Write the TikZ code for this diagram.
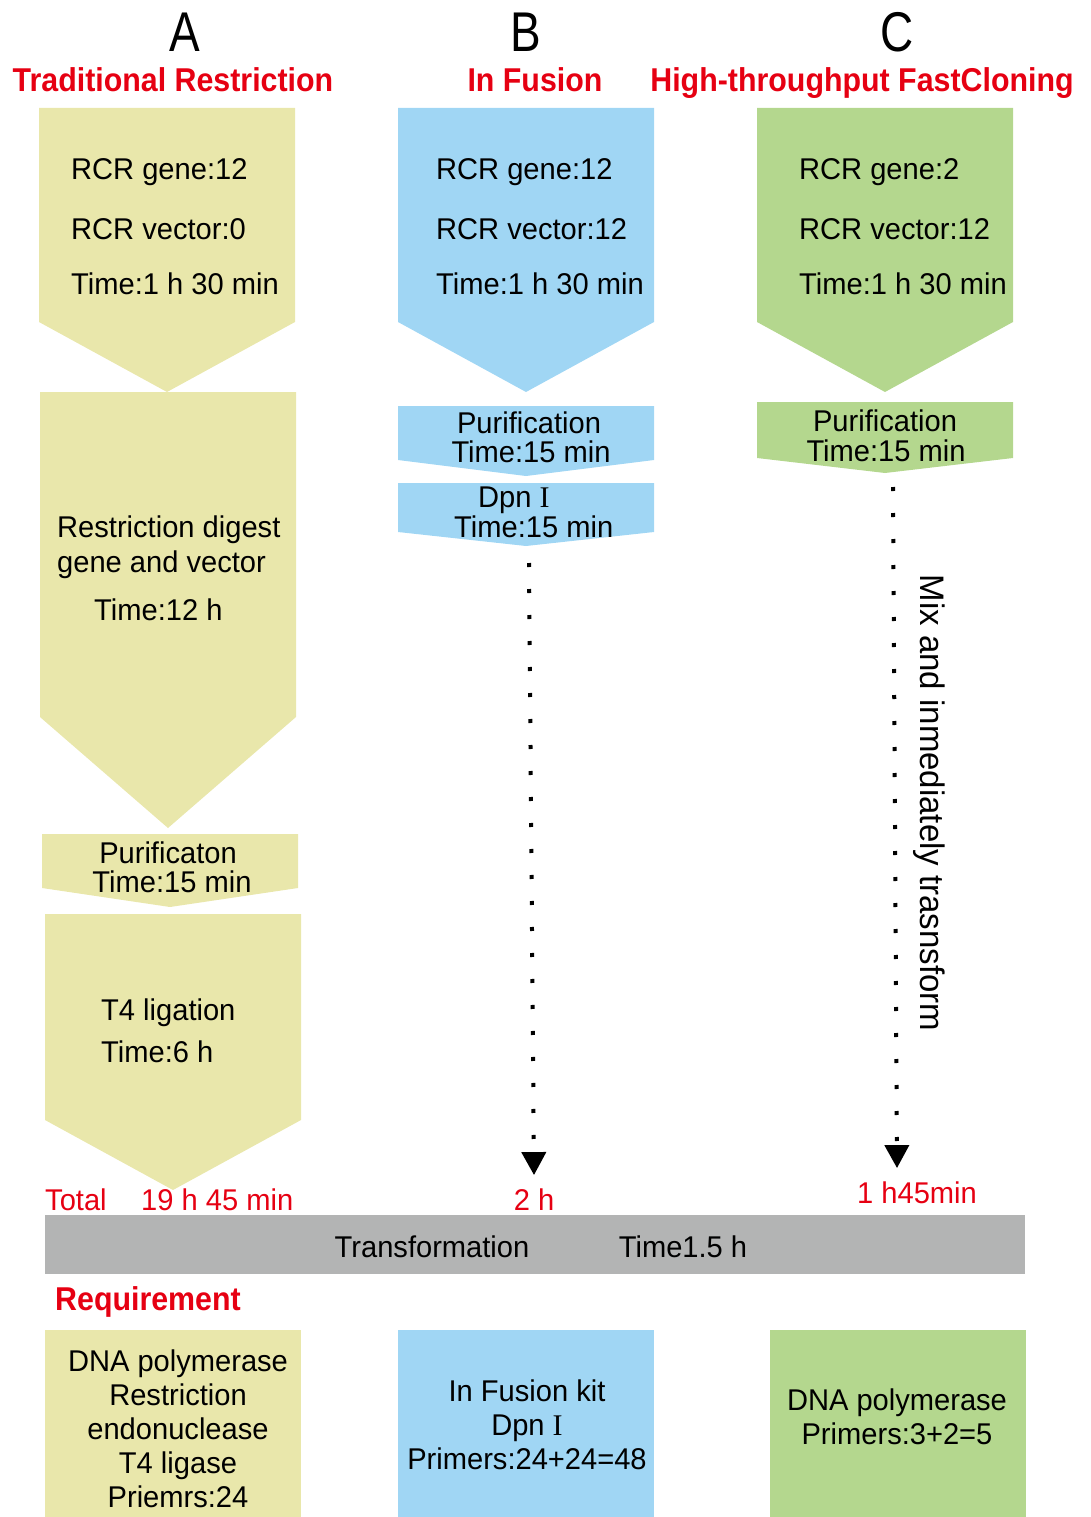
\documentclass[tikz,border=0pt]{standalone}
\usepackage{fontspec}
\setmainfont{Liberation Sans}[FakeStretch=0.97]
\newfontfamily\headfont{Liberation Sans}[FakeStretch=0.92]
\newfontfamily\letterfont{Liberation Sans}[FakeStretch=0.82]
\newfontfamily\romfont{Liberation Serif}
\usetikzlibrary{arrows.meta}
\definecolor{cyel}{RGB}{233,231,171}
\definecolor{cblu}{RGB}{160,214,244}
\definecolor{cgrn}{RGB}{180,215,142}
\definecolor{cgry}{RGB}{179,180,180}
\definecolor{cred}{RGB}{230,0,18}
\newcommand{\RomI}{{\romfont I}}
\tikzset{
  txt/.style={inner sep=0pt, font=\fontsize{30}{34}\selectfont, text=black},
  lw/.style={txt, anchor=base west},
  lc/.style={txt, anchor=base},
  multi/.style={txt, anchor=north, align=center},
  letter/.style={inner sep=0pt, anchor=base, font=\letterfont\fontsize{56}{60}\selectfont},
  heading/.style={inner sep=0pt, anchor=base, text=cred, font=\headfont\bfseries\fontsize{33}{36}\selectfont},
  redlab/.style={txt, text=cred},
  dotline/.style={line width=4pt, dash pattern=on 4pt off 22pt, -{Triangle[width=24pt,length=23pt]}},
}
% arrow box: x1, x2, top, side bottom, tip y, colour, tip name
\newcommand{\arrowbox}[7]{%
  \fill[#6] (#1,#3) -- (#2,#3) -- (#2,#4) -- ({(#1+#2)/2},#5) -- (#1,#4) -- cycle;
  \coordinate (#7) at ({(#1+#2)/2},#5);}
\begin{document}
\begin{tikzpicture}[x=1pt,y=-1pt]
\useasboundingbox (0,0) rectangle (1091,1517);
% column letters and headings
\node[letter] (hA) at (185,52) {A};
\node[letter] (hB) at (526,52) {B};
\node[letter] (hC) at (897,52) {C};
\node[heading] (tA) at (173,92) {Traditional Restriction};
\node[heading] (tB) at (535,92) {In Fusion};
\node[heading] (tC) at (862,92) {High-throughput FastCloning};
% column A
\arrowbox{39}{295}{108}{322}{392}{cyel}{a1tip}
\arrowbox{40}{296}{392}{717}{828}{cyel}{a2tip}
\arrowbox{42}{298}{834}{888}{907}{cyel}{a3tip}
\arrowbox{45}{301}{914}{1120}{1190}{cyel}{a4tip}
\node[lw] (a1g) at (71,179) {RCR gene:12};
\node[lw] (a1v) at (71,239) {RCR vector:0};
\node[lw] (a1t) at (71,294) {Time:1 h 30 min};
\node[lw] (a2a) at (57,537) {Restriction digest};
\node[lw] (a2b) at (57,572) {gene and vector};
\node[lw] (a2t) at (94,620) {Time:12 h};
\node[lc] (a3a) at (168,863) {Purificaton};
\node[lc] (a3t) at (172,892) {Time:15 min};
\node[lw] (a4a) at (101,1020) {T4 ligation};
\node[lw] (a4t) at (101,1062) {Time:6 h};
% column B
\arrowbox{398}{654}{108}{322}{392}{cblu}{b1tip}
\arrowbox{398}{654}{406}{460}{476}{cblu}{b2tip}
\arrowbox{398}{654}{483}{532}{546}{cblu}{b3tip}
\node[lw] (b1g) at (436,179) {RCR gene:12};
\node[lw] (b1v) at (436,239) {RCR vector:12};
\node[lw] (b1t) at (436,294) {Time:1 h 30 min};
\node[lc] (b2a) at (529,433) {Purification};
\node[lc] (b2t) at (531,462) {Time:15 min};
\node[lw] (b3a) at (478,507) {Dpn \RomI};
\node[lw] (b3t) at (454,537) {Time:15 min};
% column C
\arrowbox{757}{1013}{108}{322}{392}{cgrn}{c1tip}
\arrowbox{757}{1013}{402}{458}{473}{cgrn}{c2tip}
\node[lw] (c1g) at (799,179) {RCR gene:2};
\node[lw] (c1v) at (799,239) {RCR vector:12};
\node[lw] (c1t) at (799,294) {Time:1 h 30 min};
\node[lc] (c2a) at (885,431) {Purification};
\node[lc] (c2t) at (886,461) {Time:15 min};
\node[txt, rotate=-90, font=\fontsize{34}{38}\selectfont] (mix) at (929,803) {Mix and inmediately trasnsform};
% totals
\node[redlab, anchor=base west] (tot) at (45,1210) {Total};
\node[redlab, anchor=base west] (totA) at (141,1210) {19 h 45 min};
\node[redlab, anchor=base] (totB) at (534,1210) {2 h};
\node[redlab, anchor=base] (totC) at (917,1203) {1 h45min};
% dotted connectors
\draw[dotline] ([xshift=3pt,yshift=-17pt]b3tip) -- ([yshift=13pt]totB.north);
\draw[dotline] ([xshift=8pt,yshift=-14pt]c2tip) -- ([xshift=-20pt,yshift=13pt]totC.north);
% transformation bar
\fill[cgry] (45,1215) rectangle (1025,1274);
\node[lc] (trf) at (432,1257) {Transformation};
\node[lc] (trt) at (683,1257) {Time1.5 h};
% requirement
\node[heading, anchor=base west] (req) at (55,1310) {Requirement};
\fill[cyel] (45,1330) rectangle (301,1517);
\fill[cblu] (398,1330) rectangle (654,1517);
\fill[cgrn] (770,1330) rectangle (1026,1517);
\node[multi] (rA) at (178,1350) {DNA polymerase\\Restriction\\endonuclease\\T4 ligase\\Priemrs:24};
\node[multi] (rB) at (527,1380) {In Fusion kit\\Dpn \RomI\\Primers:24+24=48};
\node[multi] (rC) at (897,1389) {DNA polymerase\\Primers:3+2=5};
\end{tikzpicture}
\end{document}
